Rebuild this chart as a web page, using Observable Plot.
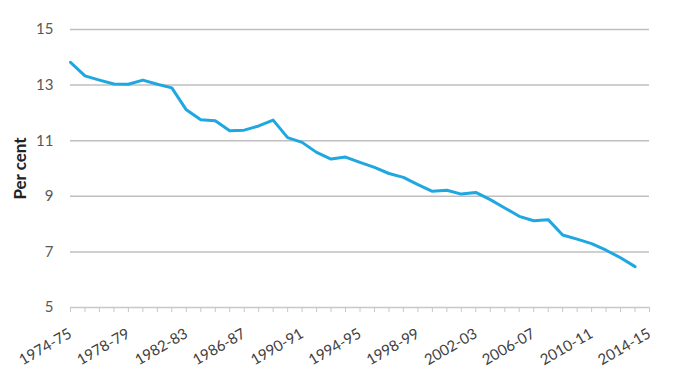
<!DOCTYPE html>
<html>
<head>
<meta charset="utf-8">
<script src="https://cdn.jsdelivr.net/npm/d3@7"></script>
<script src="https://cdn.jsdelivr.net/npm/@observablehq/plot@0.6"></script>
<style>
  html, body { margin: 0; padding: 0; background: #fff; }
  #chart svg { display: block; }
</style>
</head>
<body>
<div id="chart"></div>
<script>
const years = [
  "1974-75","1975-76","1976-77","1977-78","1978-79","1979-80","1980-81","1981-82",
  "1982-83","1983-84","1984-85","1985-86","1986-87","1987-88","1988-89","1989-90",
  "1990-91","1991-92","1992-93","1993-94","1994-95","1995-96","1996-97","1997-98",
  "1998-99","1999-00","2000-01","2001-02","2002-03","2003-04","2004-05","2005-06",
  "2006-07","2007-08","2008-09","2009-10","2010-11","2011-12","2012-13","2013-14",
  "2014-15"
];
const labeledYears = [
  "1974-75","1978-79","1982-83","1986-87","1990-91","1994-95",
  "1998-99","2002-03","2006-07","2010-11","2014-15"
];
const perCent = [
  13.82, 13.33, 13.18, 13.04, 13.03, 13.18, 13.03, 12.90,
  12.11, 11.75, 11.72, 11.36, 11.38, 11.53, 11.74, 11.11,
  10.94, 10.58, 10.34, 10.41, 10.22, 10.04, 9.82, 9.68,
  9.42, 9.18, 9.22, 9.08, 9.14, 8.88, 8.58, 8.28,
  8.12, 8.16, 7.61, 7.46, 7.30, 7.06, 6.79, 6.47
];
const yTicks = [5, 7, 9, 11, 13, 15];
const gridTicks = [7, 9, 11, 13, 15];

const data = perCent.map((v, i) => ({year: years[i], value: v}));

const chart = Plot.plot({
  width: 677,
  height: 389,
  marginLeft: 70,
  marginRight: 28,
  marginTop: 29,
  marginBottom: 82,
  style: {fontFamily: "Lato, 'Open Sans', sans-serif", background: "#fff"},
  x: {type: "point", domain: years, padding: 0, round: false},
  y: {domain: [5, 15]},
  marks: [
    Plot.ruleY(gridTicks, {stroke: "#bfbfbf", strokeWidth: 1.5}),
    Plot.ruleY([5], {stroke: "#c8c8c8", strokeWidth: 1.5}),
    Plot.axisY({
      ticks: yTicks, tickSize: 0, tickPadding: 17, label: "Per cent",
      labelAnchor: "center", labelArrow: "none", labelOffset: 57,
      fontSize: 15, color: "#595959"
    }),
    Plot.axisX({
      ticks: years, tickSize: 5, stroke: "#c8c8c8", tickRotate: -30,
      tickFormat: d => labeledYears.includes(d) ? d : "",
      tickPadding: 20, fontSize: 15, color: "#404040", label: null
    }),
    Plot.line(data, {x: "year", y: "value", stroke: "#1ea7e1", strokeWidth: 3, strokeLinejoin: "round", strokeLinecap: "round"})
  ]
});
document.getElementById("chart").appendChild(chart);
chart.querySelectorAll("g[aria-label='y-axis label'] text").forEach(t => {
  t.style.fontWeight = "bold";
  t.style.fontSize = "17px";
  t.style.fill = "#222";
});
chart.querySelectorAll("g[aria-label='x-axis tick label'] text").forEach(t => t.style.fill = "#404040");
</script>
</body>
</html>
